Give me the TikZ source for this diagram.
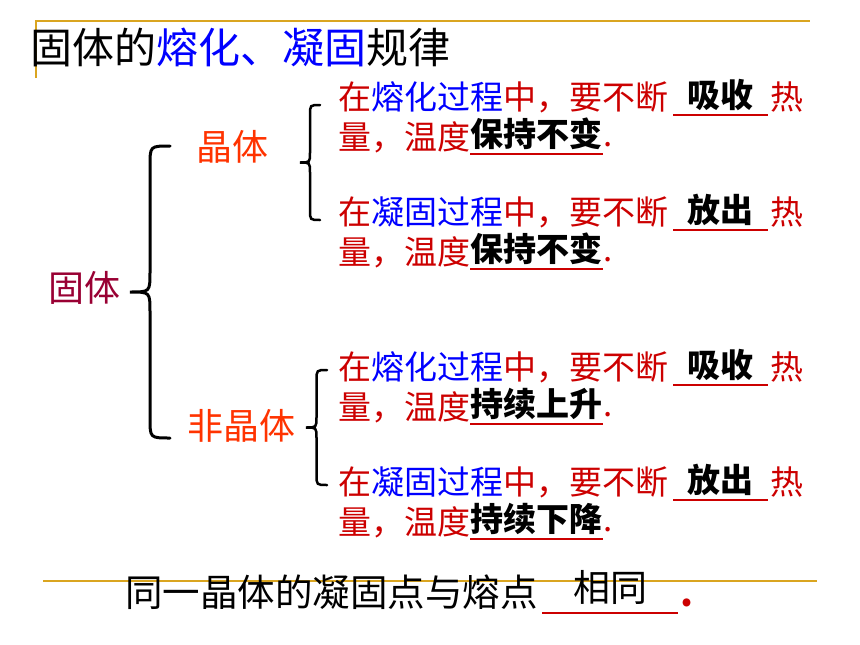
\documentclass[tikz,border=0pt]{standalone}
\usepackage{fontspec}
\setmainfont{Noto Sans CJK SC}
\usetikzlibrary{positioning}
\definecolor{myred}{RGB}{204,0,0}
\definecolor{myblue}{RGB}{0,0,255}
\definecolor{myorange}{RGB}{255,51,0}
\definecolor{mywine}{RGB}{153,0,51}
\definecolor{mygold}{RGB}{218,165,32}

\begin{document}
\begin{tikzpicture}[x=1pt,y=-1pt,
	textline/.style={inner sep=0pt,anchor=west,text=myred,font=\fontsize{33}{33}\selectfont},
	blank/.style={inner xsep=0pt,inner ysep=4pt,text=black,font=\fontsize{33}{33}\selectfont\bfseries},
	headtext/.style={inner sep=0pt,font=\fontsize{36}{36}\selectfont},
	dotmark/.style={inner sep=0pt,text=myred,font=\fontsize{33}{33}\selectfont},
	uline/.style={color=myred,line width=2pt},
	goldrule/.style={color=mygold,line width=2pt},
	bracepath/.style={line cap=round}]
			\useasboundingbox (0,0) rectangle (860,645);
			\draw[goldrule] (36,78) -- (36,21) -- (810,21);
			\draw[goldrule] (43,581) -- (817,581);
			\node[inner sep=0pt,anchor=west,font=\fontsize{42}{42}\selectfont] (title) at (30,47) {固体的\textcolor{myblue}{熔化、凝固}规律};
			\node[headtext,text=mywine] (solid) at (84,288) {固体};
			\node[headtext,text=myorange] (cryst) at (232,147) {晶体};
			\node[headtext,text=myorange] (amor) at (241,426) {非晶体};
			\foreach \xt/\ya/\yb/\w/\lw in {130/146/438/40/3, 300/105/220/20/2.5, 306/370/485/21/2.5}
			{
				\pgfmathsetmacro\stemx{\xt+\w/2}
				\pgfmathsetmacro\endx{\xt+\w}
				\pgfmathsetmacro\tipy{(\ya+\yb)/2}
				\pgfmathsetmacro\rad{\w/2}
				\draw[bracepath,line width=\lw pt] (\endx,\ya) .. controls (\stemx,\ya) .. (\stemx,{\ya+\rad}) -- (\stemx,{\tipy-\rad})
					.. controls (\stemx,\tipy) .. (\xt,\tipy) .. controls (\stemx,\tipy) .. (\stemx,{\tipy+\rad})
					-- (\stemx,{\yb-\rad}) .. controls (\stemx,\yb) .. (\endx,\yb);
			}
			\foreach \y/\proc/\heat/\temp/\n in {97/熔化/吸收/保持不变/1, 212/凝固/放出/保持不变/2, 367/熔化/吸收/持续上升/3, 482/凝固/放出/持续下降/4}
			{
				\node[textline] (p\n) at (338,\y) {在\textcolor{myblue}{{\proc}过程}中，要不断};
				\node[blank,minimum width=94pt,right=5pt of p\n,yshift=2pt] (h\n) {\heat};
				\draw[uline] (h\n.south west) -- (h\n.south east);
				\node[textline,right=2pt of h\n,yshift=-2pt] (r\n) {热};
				\node[textline] (q\n) at (338,{\y+40}) {量，温度};
				\node[blank,right=0pt of q\n,yshift=3pt] (t\n) {\temp};
				\draw[uline] (t\n.south west) -- (t\n.south east);
				\node[dotmark,anchor=base west] (d\n) at (t\n.base east) {.};
			}
			\node[inner sep=0pt,anchor=west,font=\fontsize{37.5}{37.5}\selectfont] (same) at (125,592) {同一晶体的凝固点与熔点};
			\node[blank,font=\fontsize{37}{37}\selectfont,minimum width=135pt,inner ysep=9pt] (u) at (610,587) {相同};
			\draw[uline] (u.south west) -- (u.south east);
			\node[dotmark,font=\fontsize{37}{37}\selectfont\bfseries,anchor=base west,xshift=3pt] (end) at (u.east |- same.base) {.};
		\end{tikzpicture}
\end{document}
